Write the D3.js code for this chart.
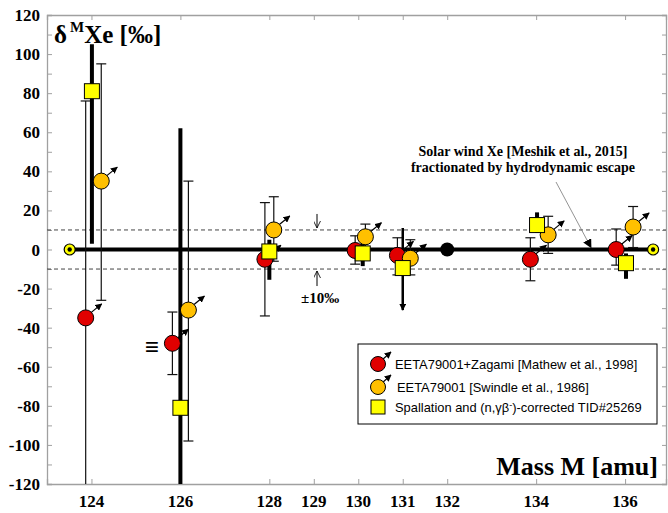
<!DOCTYPE html>
<html>
<head>
<meta charset="utf-8">
<script src="https://cdn.jsdelivr.net/npm/d3@7"></script>
<style>
  body { margin: 0; background: #fff; }
  svg { display: block; }
</style>
</head>
<body>
<div id="chart"></div>
<script>
// ---- data ----
var massTicks = [124, 126, 128, 129, 130, 131, 132, 134, 136];
var yTicks = [-120, -100, -80, -60, -40, -20, 0, 20, 40, 60, 80, 100, 120];

// EETA79001+Zagami [Mathew et al., 1998]
var redMass = [123.87, 125.82, 127.9, 129.93, 130.88, 133.87, 135.8];
var redVal  = [-35, -48, -5, -0.5, -3, -5, 0];
var redLo   = [-150, -64, -34, -7.5, -13, -16, -8];
var redHi   = [76, -32, 24, 7, 6, 6, 10.5];

// EETA79001 [Swindle et al., 1986]
var orangeMass = [124.22, 126.18, 128.1, 130.16, 131.17, 134.27, 136.18];
var orangeVal  = [35, -31, 10, 6.5, -4.5, 7.5, 11.5];
var orangeLo   = [-26, -98, -6, 0, -13, -2, 1];
var orangeHi   = [95, 35, 27, 13, 5, 17, 22];

// Spallation and (n,gb-)-corrected TID#25269
var yellowMass = [124.01, 126, 128, 130.1, 131, 134.02, 136.02];
var yellowVal  = [81, -81, -1, -2, -9.5, 12.5, -7];
var yellowLo   = [3, -130, -15.5, -8.5, -31, 8.5, -15];
var yellowHi   = [105, 62, 5, 6, 11, 19, -2];
var yellowLimit = [false, false, false, false, true, false, false];

// solar wind Xe fractionated line
var solarMass = [123.51, 136.63];
var solarRef = [132];

var svgWidth = 668;
var svgHeight = 513;

var svg = d3.select("#chart")
  .append("svg")
  .attr("width", svgWidth)
  .attr("height", svgHeight);

var plotL = 47, plotR = 666, plotT = 15, plotB = 484;

var x = d3.scaleLinear().domain([123, 136.92]).range([plotL, plotR]);
var y = d3.scaleLinear().domain([-120, 120]).range([plotB, plotT]);

var serif = "'Liberation Serif', 'Times New Roman', serif";
var sans = "'Liberation Sans', Arial, sans-serif";

var defs = svg.append("defs");
defs.append("clipPath").attr("id", "plotclip")
  .append("rect")
  .attr("x", plotL).attr("y", plotT)
  .attr("width", plotR - plotL).attr("height", plotB - plotT);

function arrowMarker(id, size) {
  defs.append("marker")
    .attr("id", id)
    .attr("viewBox", "0 0 10 10")
    .attr("refX", 9).attr("refY", 5)
    .attr("markerWidth", size).attr("markerHeight", size)
    .attr("markerUnits", "userSpaceOnUse")
    .attr("orient", "auto")
    .append("path")
    .attr("d", "M0,0 L10,5 L0,10 z")
    .attr("fill", "#000");
}
arrowMarker("ahead", 7);
arrowMarker("bighead", 9);
defs.append("marker")
  .attr("id", "openhead")
  .attr("viewBox", "0 0 10 10")
  .attr("refX", 10).attr("refY", 5)
  .attr("markerWidth", 7).attr("markerHeight", 7)
  .attr("markerUnits", "userSpaceOnUse")
  .attr("orient", "auto")
  .append("path")
  .attr("d", "M0,0 L10,5 L0,10")
  .attr("fill", "none")
  .attr("stroke", "#000")
  .attr("stroke-width", 1.2);

// ---- axes (frame) ----
var axisColor = "#a0a0a0";

var yAxisL = d3.axisRight(y).tickValues(d3.range(-120, 121, 10)).tickSize(5).tickFormat("");
var yAxisR = d3.axisLeft(y).tickValues(d3.range(-120, 121, 10)).tickSize(4).tickFormat("");
var xAxisB = d3.axisTop(x).tickValues(massTicks).tickSize(5).tickFormat("");
var xAxisT = d3.axisBottom(x).tickValues(massTicks).tickSize(5).tickFormat("");

[
  [yAxisL, "translate(" + plotL + ",0)"],
  [yAxisR, "translate(" + plotR + ",0)"],
  [xAxisB, "translate(0," + plotB + ")"],
  [xAxisT, "translate(0," + plotT + ")"]
].forEach(function(a) {
  var g = svg.append("g").attr("transform", a[1]).call(a[0]);
  g.selectAll("path.domain").attr("stroke", axisColor).attr("stroke-width", 1.3);
  g.selectAll(".tick line").attr("stroke", axisColor);
});

// tick labels
svg.append("g").selectAll("text")
  .data(yTicks)
  .enter()
  .append("text")
  .attr("x", 40)
  .attr("y", d => y(d) + 6)
  .attr("text-anchor", "end")
  .style("font-family", serif)
  .style("font-weight", "bold")
  .style("font-size", "17px")
  .text(d => d);

svg.append("g").selectAll("text")
  .data(massTicks)
  .enter()
  .append("text")
  .attr("x", d => x(d))
  .attr("y", 507)
  .attr("text-anchor", "middle")
  .style("font-family", serif)
  .style("font-weight", "bold")
  .style("font-size", "17px")
  .text(d => d);

// axis titles
var title = svg.append("text")
  .attr("x", 54)
  .attr("y", 43)
  .style("font-family", serif)
  .style("font-weight", "bold")
  .style("font-size", "25px");
title.append("tspan").text("δ");
title.append("tspan").attr("dy", -11).attr("dx", 3).style("font-size", "15px").text("M");
title.append("tspan").attr("dy", 11).text("Xe [‰]");

svg.append("text")
  .attr("x", 658)
  .attr("y", 475)
  .attr("text-anchor", "end")
  .style("font-family", serif)
  .style("font-weight", "bold")
  .style("font-size", "26px")
  .text("Mass M [amu]");

// ---- reference lines ----
var plot = svg.append("g").attr("clip-path", "url(#plotclip)");

[10, -10].forEach(function(v) {
  plot.append("line")
    .attr("x1", plotL).attr("x2", plotR)
    .attr("y1", y(v)).attr("y2", y(v))
    .attr("stroke", "#444")
    .attr("stroke-width", 1)
    .attr("stroke-dasharray", "4,3");
});

plot.append("line")
  .attr("x1", x(solarMass[0])).attr("x2", x(solarMass[1]))
  .attr("y1", y(0)).attr("y2", y(0))
  .attr("stroke", "#000")
  .attr("stroke-width", 4);

// ±10 permil annotation
plot.append("line")
  .attr("x1", 317).attr("x2", 317)
  .attr("y1", y(10) - 16).attr("y2", y(10) - 2)
  .attr("stroke", "#000").attr("stroke-width", 1)
  .attr("marker-end", "url(#openhead)");
plot.append("line")
  .attr("x1", 317).attr("x2", 317)
  .attr("y1", y(-10) + 17).attr("y2", y(-10) + 2)
  .attr("stroke", "#000").attr("stroke-width", 1)
  .attr("marker-end", "url(#openhead)");
svg.append("text")
  .attr("x", 301)
  .attr("y", 303)
  .style("font-family", serif)
  .style("font-weight", "bold")
  .style("font-size", "15px")
  .text("±10‰");

// solar wind annotation
var ann = svg.append("text")
  .attr("text-anchor", "middle")
  .style("font-family", serif)
  .style("font-weight", "bold")
  .style("font-size", "14px");
ann.append("tspan").attr("x", 523).attr("y", 156).text("Solar wind Xe [Meshik et al., 2015]");
ann.append("tspan").attr("x", 523).attr("y", 172).text("fractionated by hydrodynamic escape");

svg.append("line")
  .attr("x1", 556).attr("y1", 182)
  .attr("x2", 591).attr("y2", y(0) - 2)
  .attr("stroke", "#777")
  .attr("stroke-width", 0.8)
  .attr("marker-end", "url(#bighead)");

// ---- error bars ----
function thinBars(mass, lo, hi) {
  var g = plot.append("g").attr("stroke", "#111").attr("stroke-width", 1.2);
  mass.forEach(function(m, i) {
    var cx = x(m);
    g.append("line").attr("x1", cx).attr("x2", cx).attr("y1", y(lo[i])).attr("y2", y(hi[i]));
    [lo[i], hi[i]].forEach(function(v) {
      g.append("line").attr("x1", cx - 5).attr("x2", cx + 5).attr("y1", y(v)).attr("y2", y(v));
    });
  });
}
thinBars(redMass, redLo, redHi);
thinBars(orangeMass, orangeLo, orangeHi);

yellowMass.forEach(function(m, i) {
  plot.append("line")
    .attr("x1", x(m)).attr("x2", x(m))
    .attr("y1", y(yellowHi[i]))
    .attr("y2", y(yellowLo[i]))
    .attr("stroke", "#000")
    .attr("stroke-width", yellowLimit[i] ? 2.5 : 4)
    .attr("marker-end", yellowLimit[i] ? "url(#ahead)" : null);
});

// ---- markers ----
function circles(g, mass, val, fill) {
  mass.forEach(function(m, i) {
    var cx = x(m), cy = y(val[i]);
    g.append("line")
      .attr("x1", cx + 5).attr("y1", cy - 5)
      .attr("x2", cx + 16).attr("y2", cy - 14)
      .attr("stroke", "#000").attr("stroke-width", 1.2)
      .attr("marker-end", "url(#ahead)");
    g.append("circle")
      .attr("cx", cx).attr("cy", cy).attr("r", 8)
      .attr("fill", fill)
      .attr("stroke", "#000").attr("stroke-width", 1);
  });
}
var marks = plot.append("g");
circles(marks, redMass, redVal, "#e00000");
circles(marks, orangeMass, orangeVal, "#ffc000");

marks.selectAll("rect.sq")
  .data(yellowMass)
  .enter()
  .append("rect")
  .attr("class", "sq")
  .attr("x", d => x(d) - 7.5)
  .attr("y", (d, i) => y(yellowVal[i]) - 7.5)
  .attr("width", 15).attr("height", 15)
  .attr("fill", "#ffff00")
  .attr("stroke", "#000").attr("stroke-width", 1);

// solar wind points
solarMass.forEach(function(m) {
  marks.append("circle").attr("cx", x(m)).attr("cy", y(0)).attr("r", 5.5)
    .attr("fill", "#ffff00").attr("stroke", "#000").attr("stroke-width", 1.2);
  marks.append("circle").attr("cx", x(m)).attr("cy", y(0)).attr("r", 2.2).attr("fill", "#000");
});
solarRef.forEach(function(m) {
  marks.append("circle").attr("cx", x(m)).attr("cy", y(0)).attr("r", 7).attr("fill", "#000");
});

// triple bar mark next to 126
svg.append("text")
  .attr("x", 145)
  .attr("y", 355)
  .style("font-family", sans)
  .style("font-size", "24px")
  .text("≡");

// ---- legend ----
var lg = svg.append("g");
lg.append("rect")
  .attr("x", 358).attr("y", 344)
  .attr("width", 299).attr("height", 80)
  .attr("fill", "#fff")
  .attr("stroke", "#000").attr("stroke-width", 1);

var legendItems = [
  {fill: "#e00000", label: "EETA79001+Zagami [Mathew et al., 1998]", y: 364, tx: 395},
  {fill: "#ffc000", label: "EETA79001 [Swindle et al., 1986]", y: 387, tx: 397}
];
legendItems.forEach(function(d) {
  lg.append("line")
    .attr("x1", 382).attr("y1", d.y - 4)
    .attr("x2", 391).attr("y2", d.y - 12)
    .attr("stroke", "#000").attr("stroke-width", 1.2)
    .attr("marker-end", "url(#ahead)");
  lg.append("circle")
    .attr("cx", 378).attr("cy", d.y).attr("r", 7.5)
    .attr("fill", d.fill).attr("stroke", "#000");
  lg.append("text")
    .attr("x", d.tx).attr("y", d.y + 5)
    .style("font-family", sans)
    .style("font-size", "12.9px")
    .text(d.label);
});
lg.append("rect")
  .attr("x", 371).attr("y", 400)
  .attr("width", 14).attr("height", 14)
  .attr("fill", "#ffff00").attr("stroke", "#000");
var t3 = lg.append("text")
  .attr("x", 395).attr("y", 412)
  .style("font-family", sans)
  .style("font-size", "12.9px");
t3.append("tspan").text("Spallation and (n,γβ");
t3.append("tspan").attr("dy", -4).style("font-size", "9px").text("-");
t3.append("tspan").attr("dy", 4).text(")-corrected TID#25269");
</script>
</body>
</html>
